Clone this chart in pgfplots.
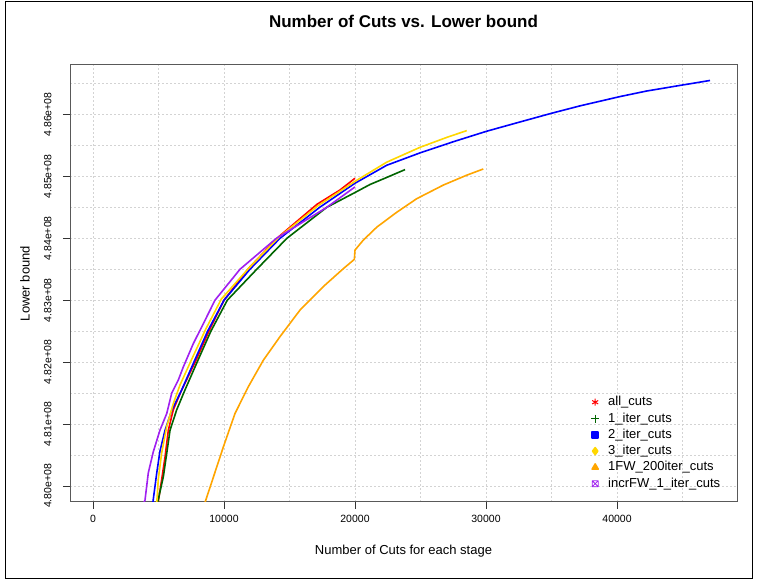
\documentclass[border=0pt]{standalone}
\usepackage{fontspec}
\setmainfont{Liberation Sans}
\usepackage{pgfplots}
\pgfplotsset{compat=1.18}

\definecolor{cRed}{RGB}{255,0,0}
\definecolor{cGreen}{RGB}{0,100,0}
\definecolor{cBlue}{RGB}{0,0,255}
\definecolor{cYellow}{RGB}{255,215,0}
\definecolor{cOrange}{RGB}{255,165,0}
\definecolor{cPurple}{RGB}{160,32,240}
\definecolor{cGrid}{RGB}{211,211,211}

% square with a cross inside
\pgfdeclareplotmark{boxtimes}{%
  \pgfpathrectangle{\pgfpoint{-\pgfplotmarksize}{-\pgfplotmarksize}}{\pgfpoint{2\pgfplotmarksize}{2\pgfplotmarksize}}%
  \pgfpathmoveto{\pgfpoint{-\pgfplotmarksize}{-\pgfplotmarksize}}%
  \pgfpathlineto{\pgfpoint{\pgfplotmarksize}{\pgfplotmarksize}}%
  \pgfpathmoveto{\pgfpoint{-\pgfplotmarksize}{\pgfplotmarksize}}%
  \pgfpathlineto{\pgfpoint{\pgfplotmarksize}{-\pgfplotmarksize}}%
  \pgfusepathqstroke}

\begin{document}
\begin{tikzpicture}
\useasboundingbox (0pt,0pt) rectangle (759pt,580pt);
\draw[black, line width=0.8pt] (5pt,1.5pt) rectangle (752pt,579pt);
\begin{axis}[
  at={(70pt,78pt)}, anchor=south west,
  scale only axis, width=667pt, height=437pt,
  xmin=-1756, xmax=49160,
  ymin=4.7974e8, ymax=4.8680e8,
  scaled ticks=false,
  xtick={0,10000,20000,30000,40000},
  xticklabels={0,10000,20000,30000,40000},
  minor xtick={5000,15000,25000,35000,45000},
  ytick={4.80e8,4.81e8,4.82e8,4.83e8,4.84e8,4.85e8,4.86e8},
  yticklabels={4.80e+08,4.81e+08,4.82e+08,4.83e+08,4.84e+08,4.85e+08,4.86e+08},
  minor ytick={4.805e8,4.815e8,4.825e8,4.835e8,4.845e8,4.855e8,4.865e8},
  grid=both,
  major grid style={cGrid, line width=0.6pt, dash pattern=on 2pt off 2pt},
  minor grid style={cGrid, line width=0.6pt, dash pattern=on 2pt off 2pt},
  tick align=outside, tick pos=left,
  major tick length=7pt, minor tick length=0pt,
  tick style={black!80, line width=0.7pt},
  axis line style={black!65, line width=1pt},
  tick label style={font=\fontsize{10.5}{12}\selectfont},
  xticklabel style={yshift=-3pt},
  yticklabel style={xshift=-8pt, rotate=90, anchor=south},
  title={\textbf{Number of Cuts vs. Lower bound}},
  title style={at={(axis description cs:0.5,1)}, anchor=center, yshift=38pt, font=\fontsize{17}{20}\selectfont},
  xlabel={Number of Cuts for each stage},
  xlabel style={at={(axis description cs:0.5,0)}, anchor=center, yshift=-49pt, font=\fontsize{13}{15}\selectfont},
  ylabel={Lower bound},
  ylabel style={at={(axis description cs:-0.0675,0.5)}, anchor=center, font=\fontsize{13}{15}\selectfont},
  legend style={draw=none, fill=none, at={(axis description cs:0.7766,0.2471)}, anchor=north west,
    font=\fontsize{13}{13}\selectfont, row sep=4.3pt, column sep=9pt,
    nodes={inner sep=0pt, text height=9.5pt, text depth=2.5pt}},
  legend cell align=left,
  legend image code/.code={\draw[#1] plot coordinates {(4pt,0pt)};},
  every axis plot/.append style={line width=1.6pt, line join=round},
]

% all_cuts
\addplot[cRed, mark=asterisk, mark size=3.5pt, mark indices={14}, mark options={solid, line width=1pt}, forget plot] coordinates {
(4950,4.7970e8) (5240,4.8010e8) (5500,4.8047e8) (5750,4.8090e8) (6130,4.8123e8)
(6770,4.8155e8) (7800,4.8200e8) (8850,4.8250e8) (10000,4.8300e8) (11900,4.8352e8)
(14200,4.8403e8) (17100,4.8455e8) (18850,4.8478e8) (20000,4.8497e8)
};

% 1_iter_cuts
\addplot[cGreen, mark=+, mark size=4pt, mark indices={16}, mark options={solid, line width=1pt}, forget plot] coordinates {
(4900,4.7970e8) (5370,4.8015e8) (5630,4.8053e8) (5880,4.8090e8) (6390,4.8123e8)
(7020,4.8155e8) (7950,4.8200e8) (9000,4.8250e8) (10250,4.8300e8) (12500,4.8350e8)
(14800,4.8400e8) (17840,4.8450e8) (20000,4.8474e8) (21150,4.8487e8) (22160,4.8496e8)
(23820,4.8511e8)
};

% 2_iter_cuts
\addplot[cBlue, mark=square*, mark size=3pt, mark indices={24}, mark options={solid, line width=0.5pt}, forget plot] coordinates {
(4550,4.7970e8) (4860,4.8020e8) (5110,4.8056e8) (5500,4.8090e8) (6010,4.8122e8)
(6770,4.8155e8) (7700,4.8200e8) (8750,4.8250e8) (10000,4.8300e8) (11980,4.8350e8)
(14270,4.8400e8) (17300,4.8450e8) (20000,4.8489e8) (22420,4.8518e8) (24960,4.8538e8)
(27500,4.8556e8) (30050,4.8573e8) (32600,4.8588e8) (35000,4.8602e8) (37180,4.8614e8)
(40230,4.8629e8) (42270,4.8638e8) (44810,4.8647e8) (47100,4.8655e8)
};

% 3_iter_cuts
\addplot[cYellow, mark=diamond*, mark size=3.5pt, mark indices={17}, mark options={solid, line width=0.5pt}, forget plot] coordinates {
(4860,4.7970e8) (4980,4.8010e8) (5240,4.8053e8) (5630,4.8096e8) (6130,4.8133e8)
(6640,4.8163e8) (7500,4.8203e8) (8600,4.8253e8) (9800,4.8302e8) (11900,4.8352e8)
(14200,4.8402e8) (17200,4.8453e8) (20000,4.8492e8) (22420,4.8523e8) (24960,4.8547e8)
(27000,4.8563e8) (28530,4.8574e8)
};

% 1FW_200iter_cuts
\addplot[cOrange, mark=triangle*, mark size=3.5pt, mark indices={18}, mark options={solid, line width=0.5pt}, forget plot] coordinates {
(8500,4.7970e8) (9950,4.8063e8) (10840,4.8117e8) (11850,4.8160e8) (13000,4.8203e8)
(14270,4.8241e8) (15800,4.8284e8) (17580,4.8322e8) (19110,4.8351e8) (19950,4.8366e8)
(20000,4.8381e8) (20630,4.8397e8) (21660,4.8418e8) (23180,4.8442e8) (24710,4.8464e8)
(26740,4.8486e8) (28530,4.8502e8) (29790,4.8512e8)
};

% incrFW_1_iter_cuts
\addplot[cPurple, mark=boxtimes, mark size=3pt, mark indices={16}, mark options={solid, line width=0.8pt}, forget plot] coordinates {
(3800,4.7970e8) (3970,4.7977e8) (4220,4.8021e8) (4600,4.8055e8) (5110,4.8090e8)
(5630,4.8117e8) (6010,4.8150e8) (6510,4.8171e8) (6890,4.8192e8) (7660,4.8230e8)
(8420,4.8262e8) (9310,4.8300e8) (11220,4.8350e8) (14000,4.8400e8) (17840,4.8450e8)
(20000,4.8483e8)
};

\addlegendimage{only marks, cRed, mark=asterisk, mark size=3.5pt, mark options={line width=1pt}}
\addlegendentry{all\_cuts}
\addlegendimage{only marks, cGreen, mark=+, mark size=4pt, mark options={line width=1pt}}
\addlegendentry{1\_iter\_cuts}
\addlegendimage{only marks, cBlue, mark=square*, mark size=3pt}
\addlegendentry{2\_iter\_cuts}
\addlegendimage{only marks, cYellow, mark=diamond*, mark size=3.5pt}
\addlegendentry{3\_iter\_cuts}
\addlegendimage{only marks, cOrange, mark=triangle*, mark size=3.5pt}
\addlegendentry{1FW\_200iter\_cuts}
\addlegendimage{only marks, cPurple, mark=boxtimes, mark size=3pt, mark options={line width=0.8pt}}
\addlegendentry{incrFW\_1\_iter\_cuts}
\end{axis}
\end{tikzpicture}
\end{document}
